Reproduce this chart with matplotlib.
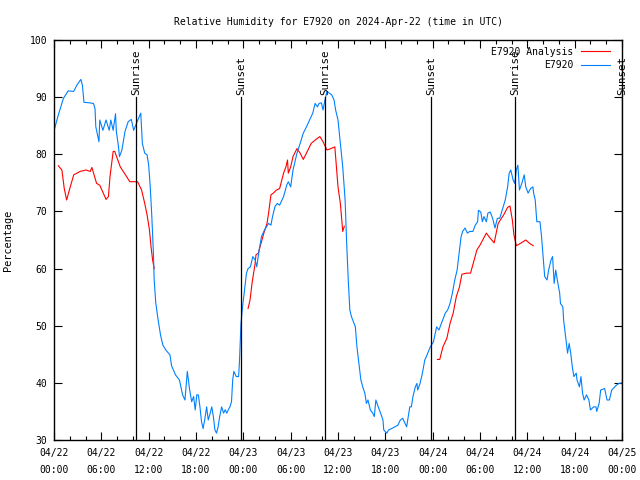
import numpy as np
import matplotlib
matplotlib.use('Agg')
import matplotlib.pyplot as plt
from matplotlib.ticker import MultipleLocator

# hours since 04/22 00:00 UTC, relative humidity (%)
obs_h = [0, 0.55, 1.2, 1.8, 2.5, 2.9, 3.4, 3.6, 3.8, 4.5, 5.0, 5.2, 5.3, 5.7, 5.8, 6.2, 6.6, 7.0, 7.2, 7.5,
         7.8, 7.9, 8.15, 8.3, 8.6, 9.0, 9.4, 9.8, 10.1, 10.6, 11.0, 11.2, 11.5, 11.8, 12.0, 12.2, 12.4, 12.6, 12.7, 12.9,
         13.2, 13.5, 13.8, 14.2, 14.7, 14.9, 15.4, 15.9, 16.3, 16.6, 16.9, 17.2, 17.45, 17.7, 17.9, 18.1, 18.3, 18.5, 18.7, 18.9,
         19.1, 19.35, 19.55, 19.8, 20.0, 20.2, 20.4, 20.6, 20.8, 21.0, 21.25, 21.5, 21.7, 21.9, 22.1, 22.3, 22.5, 22.65, 22.8, 23.1,
         23.4, 23.5, 23.7, 23.9, 24.2, 24.4, 24.6, 24.9, 25.2, 25.5, 25.7, 26.0, 26.3, 26.7, 27.2, 27.5, 27.7, 28.0, 28.3, 28.6,
         29.1, 29.5, 29.7, 30.0, 30.3, 30.8, 31.2, 31.6, 32.0, 32.4, 32.8, 33.1, 33.4, 33.6, 33.9, 34.1, 34.35, 34.6, 34.9, 35.2,
         35.5, 35.7, 36.0, 36.3, 36.6, 36.9, 37.1, 37.3, 37.5, 37.7, 38.2, 38.4, 38.6, 38.9, 39.2, 39.4, 39.6, 39.8, 40.1, 40.4,
         40.6, 40.8, 41.1, 41.4, 41.7, 41.8, 42.2, 42.4, 42.8, 43.2, 43.6, 43.9, 44.2, 44.5, 44.7, 44.9, 45.1, 45.3, 45.5, 45.8,
         46.0, 46.1, 46.4, 46.7, 47.0, 47.2, 47.7, 48.1, 48.5, 48.8, 49.1, 49.6, 49.9, 50.2, 50.5, 50.8, 51.1, 51.3, 51.6, 51.8,
         52.1, 52.4, 52.7, 53.1, 53.4, 53.7, 53.8, 54.1, 54.3, 54.5, 54.8, 55.0, 55.3, 55.6, 55.9, 56.2, 56.5, 56.9, 57.2, 57.5,
         57.7, 57.9, 58.2, 58.4, 58.6, 58.8, 59.0, 59.3, 59.6, 59.8, 60.1, 60.4, 60.7, 60.8, 61.0, 61.2, 61.6, 61.8, 62.0, 62.2,
         62.5, 62.7, 63.0, 63.2, 63.4, 63.6, 63.8, 64.1, 64.2, 64.5, 64.6, 64.9, 65.1, 65.3, 65.5, 65.7, 65.9, 66.2, 66.3, 66.6,
         66.8, 67.0, 67.2, 67.5, 67.8, 68.0, 68.4, 68.7, 68.8, 69.1, 69.3, 69.8, 70.1, 70.4, 70.7, 71.1, 71.3, 71.6, 72.0]
obs_rh = [84.1, 86.9, 89.8, 91.1, 91, 92.1, 93.1, 92.1, 89.1, 89, 88.9, 88, 84.8, 82.2, 86, 84.2, 86, 84.2, 86, 84.2,
          87.1, 84, 81.6, 79.6, 80.7, 84, 85.7, 86.1, 84.2, 85.9, 87.2, 81.9, 80.2, 79.9, 78.1, 74.3, 69.1, 62.7, 58, 54,
          51, 48.4, 46.6, 45.7, 44.9, 43, 41.4, 40.5, 37.9, 37, 42, 38.75, 36.7, 37.6, 35.25, 37.9, 37.9, 35.8, 33.2, 32,
          33.5, 35.8, 33.5, 34.7, 35.8, 34.1, 31.75, 31.2, 32.3, 34.1, 35.8, 34.7, 35.3, 34.7, 35.3, 35.8, 36.7, 40.5, 42, 41.1,
          41.1, 43.4, 50.4, 53.3, 56.8, 59.2, 60, 60.3, 62.1, 61.5, 60.3, 63.2, 65.6, 66.8, 67.9, 67.6, 69.1, 70.8, 71.4, 71.1,
          72.6, 74.6, 75.2, 74.3, 77.25, 80.2, 81.9, 83.7, 84.8, 86, 87.2, 88.9, 88.3, 88.9, 89, 87.75, 89.5, 91, 90.7, 90.4,
          89.5, 87.75, 86, 81.9, 77.8, 72, 64.4, 58, 52.75, 51.6, 49.8, 46.3, 44, 40.5, 39, 38.2, 36.4, 37, 35.25, 34.7,
          34.1, 37, 35.8, 34.7, 33.5, 31.75, 31.2, 31.75, 32, 32.3, 32.6, 33.5, 33.8, 32.9, 32.3, 34.1, 35.8, 35.8, 37.6, 39.3,
          39.9, 38.75, 39.9, 41.7, 44, 44.6, 46.3, 47.2, 49.8, 49.25, 50.4, 52.2, 52.75, 53.9, 55.7, 58, 59.75, 62.1, 65.6, 66.5,
          67.1, 66.2, 66.5, 66.5, 67.6, 68.2, 70.2, 69.9, 68.2, 69.1, 68.2, 69.7, 69.9, 68.8, 67.1, 68.8, 68.8, 70.6, 72, 74.3,
          76.7, 77.25, 75.5, 74.9, 77.25, 78.1, 73.75, 74.9, 76.4, 74.3, 73.2, 74, 74.3, 73.2, 72, 68.2, 68.2, 65.6, 62.1, 58.6,
          58, 59.75, 61.5, 62.1, 57.4, 59.75, 58, 55.7, 53.9, 53.3, 51, 47.5, 45.2, 46.9, 45.2, 42.8, 41.1, 41.7, 40.5, 39.3,
          41.1, 38.2, 37, 37.9, 37, 35.25, 35.8, 35.8, 35, 36.4, 38.75, 39, 37, 37, 38.75, 39.3, 39.6, 39.9, 40]

# analysis (NaN = gap)
ana_h = [0.55, 1.0, 1.3, 1.6, 2.0, 2.5, 3.3, 4.05, 4.6, 4.8, 5.4, 5.8, 6.25, 6.6, 6.9, 7.1, 7.5, 7.7, 8.4, 9.2,
         9.6, 10.6, 11.1, 11.5, 11.8, 12.1, 12.3, 12.5, 12.7, 18.0,
         24.6, 24.85, 25.1, 25.3, 25.5, 25.6, 25.9, 26.3, 26.6, 27.0, 27.2, 27.5, 27.8, 28.2, 28.6, 29.1, 29.4, 29.6, 29.7, 30.0,
         30.3, 30.8, 31.2, 31.6, 32.0, 32.6, 33.2, 33.7, 34.1, 34.6, 35.1, 35.6, 35.8, 36.0, 36.3, 36.6, 36.8, 42.0,
         48.6, 48.9, 49.3, 49.8, 50.2, 50.6, 51.0, 51.4, 51.7, 52.3, 52.8, 53.2, 53.6, 54.0, 54.8, 55.3, 55.8, 56.3, 57.0, 57.5,
         57.8, 58.1, 58.3, 58.6, 59.0, 59.8, 60.3, 60.75]
ana_rh = [78, 77.25, 74, 72, 74, 76.4, 77, 77.25, 77, 77.7, 74.9, 74.6, 73.2, 72.1, 72.6, 76.1, 80.5, 80.5, 77.8, 76.1,
          75.2, 75.2, 73.75, 71.4, 69.4, 66.75, 63.8, 61.5, 60, np.nan,
          53, 54.5, 57.4, 59.2, 60.9, 62.4, 62.7, 64.7, 66.2, 67.9, 69.7, 72.9, 73.2, 73.75, 74, 76.7, 77.8, 79, 76.7, 77.8,
          79.6, 81, 80.2, 79.1, 80.2, 81.9, 82.6, 83.1, 82.2, 80.75, 81, 81.3, 77.8, 74.3, 71.4, 66.5, 67.4, np.nan,
          44.1, 44.1, 46.3, 47.8, 50.4, 52.2, 55.1, 56.8, 59, 59.2, 59.2, 61.2, 63.25, 64.1, 66.2, 65.3, 64.5, 67.9, 69.4, 70.7,
          70.95, 68.5, 65.9, 64, 64.3, 65, 64.4, 64]

sun_h = [10.4, 23.7, 34.35, 47.8, 58.45, 72.0]
sun_lbl = ['Sunrise', 'Sunset', 'Sunrise', 'Sunset', 'Sunrise', 'Sunset']

xtick_h = list(range(0, 73, 6))
xtick_lbl = ['04/22\n00:00', '04/22\n06:00', '04/22\n12:00', '04/22\n18:00',
             '04/23\n00:00', '04/23\n06:00', '04/23\n12:00', '04/23\n18:00',
             '04/24\n00:00', '04/24\n06:00', '04/24\n12:00', '04/24\n18:00',
             '04/25\n00:00']

plt.rcParams['font.family'] = 'DejaVu Sans Mono'
plt.rcParams['font.size'] = 7.0

fig = plt.figure(figsize=(6.4, 4.8), dpi=100)
ax = fig.add_axes([54/640, 40/480, 568/640, 400/480])

ax.plot(ana_h, ana_rh, color='#ff0000', lw=0.8, label='E7920 Analysis')
ax.plot(obs_h, obs_rh, color='#0080ff', lw=0.8, label='E7920')

for h, s in zip(sun_h, sun_lbl):
    ax.plot([h, h], [30, 90], color='black', lw=0.9)
    ax.text(h, 90.4, s, rotation=90, ha='center', va='bottom', clip_on=False, fontsize=7.8)

ax.set_xlim(0, 72)
ax.set_ylim(30, 100)
ax.set_xticks(xtick_h)
ax.set_xticklabels(xtick_lbl, linespacing=1.8)
ax.xaxis.set_minor_locator(MultipleLocator(2))
ax.yaxis.set_major_locator(MultipleLocator(10))
ax.tick_params(which='major', direction='in', top=True, right=True, length=6, width=0.8, pad=5)
ax.tick_params(which='minor', direction='in', top=True, right=False, length=3, width=0.8)
ax.tick_params(axis='x', pad=6)
for sp in ax.spines.values():
    sp.set_linewidth(1.0)

ax.set_title('Relative Humidity for E7920 on 2024-Apr-22 (time in UTC)', fontsize=7.0, pad=11)
ax.set_ylabel('Percentage', labelpad=12, fontsize=7.4)

ax.legend(loc='upper right', frameon=False, markerfirst=False, handlelength=2.9,
          handletextpad=0.8, labelspacing=0.35, borderaxespad=0.3, bbox_to_anchor=(0.99, 1.0))

fig.savefig('out.png', dpi=100)
